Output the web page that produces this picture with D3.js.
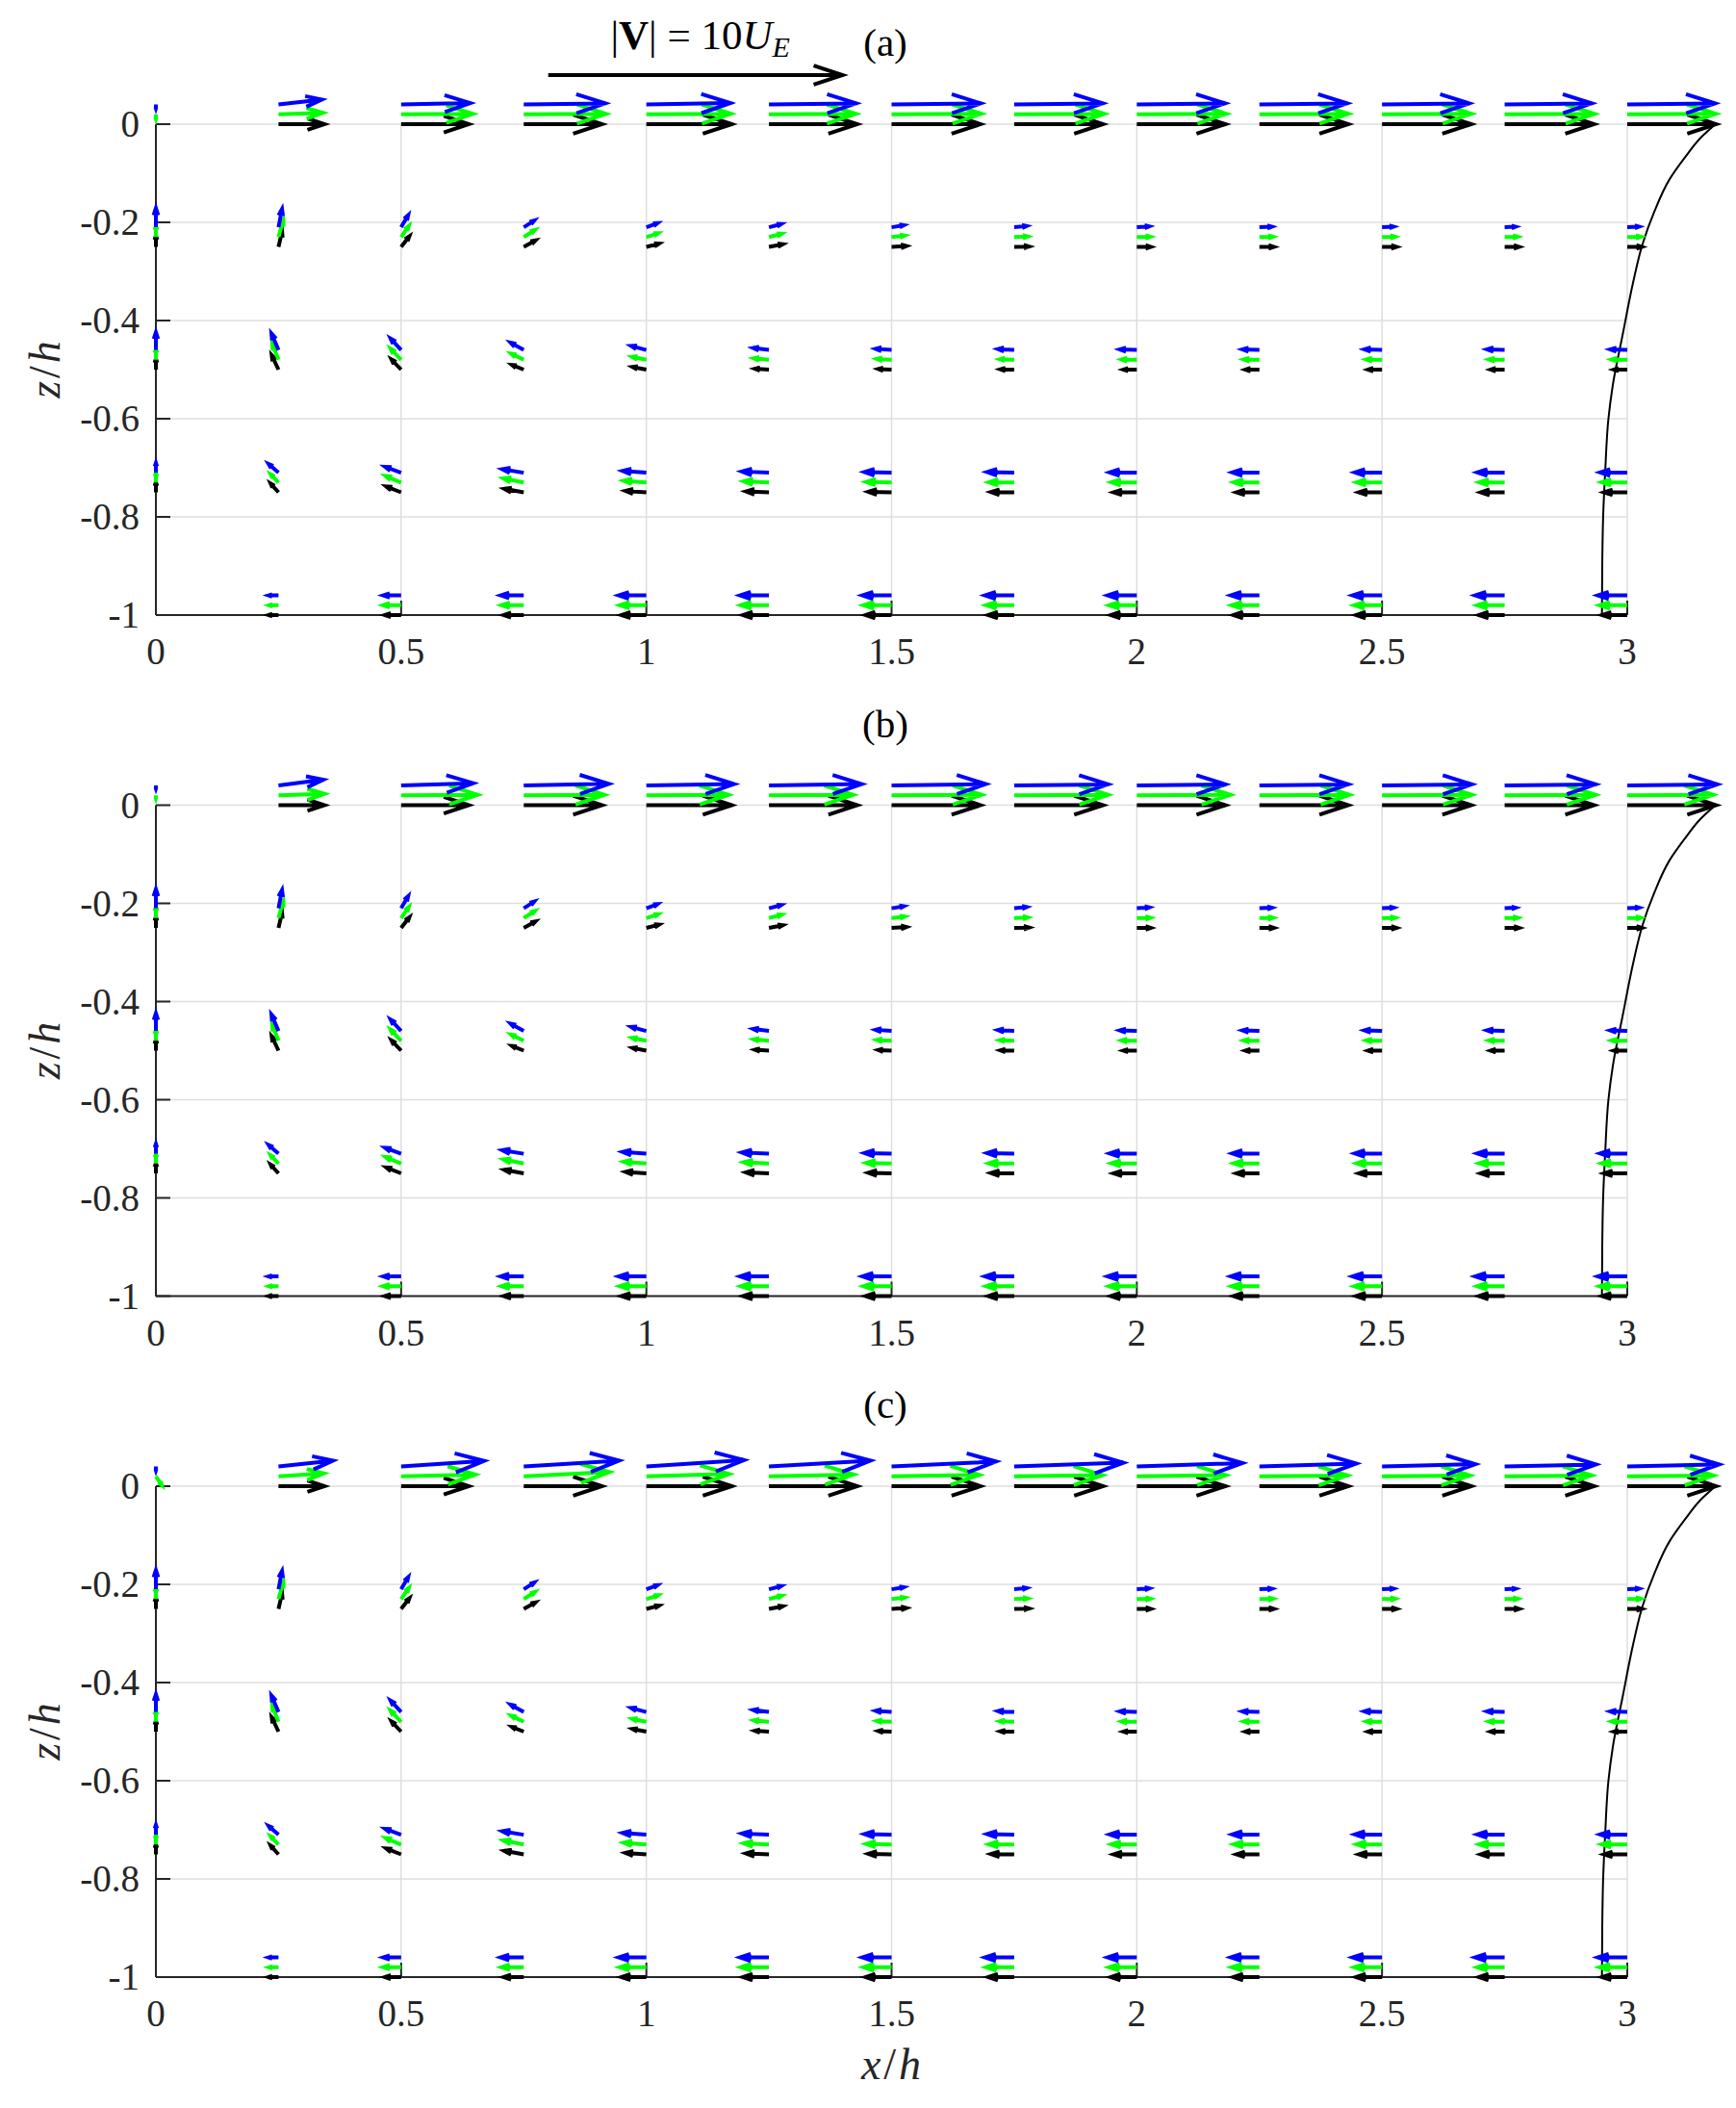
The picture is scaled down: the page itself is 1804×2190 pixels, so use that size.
<!DOCTYPE html>
<html><head><meta charset="utf-8">
<script src="https://cdn.jsdelivr.net/npm/d3@7"></script>
<style>body{margin:0;background:#fff} svg{display:block}</style>
</head><body>
<script>
// ---------- data ----------
const xh = [0,0.25,0.5,0.75,1,1.25,1.5,1.75,2,2.25,2.5,2.75,3];
const rowZ = [0,-0.25,-0.5,-0.75,-1];
const seriesOffset = [0,0.02,0.04];          // black, green, blue (z/h shift)
const seriesColor = ["#000000","#00ff00","#0000ff"];
const panelLabels = ["(a)","(b)","(c)"];
const xTicks = [0,0.5,1,1.5,2,2.5,3];
const xTickLabels = ["0","0.5","1","1.5","2","2.5","3"];
const yTicks = [0,-0.2,-0.4,-0.6,-0.8,-1];
const yTickLabels = ["0","-0.2","-0.4","-0.6","-0.8","-1"];
const velScale = 0.06;   // h per U_E
const refArrowU = 10;    // |V| = 10 U_E
const refArrowX = 0.8, refArrowZ = 0.1;

// surface row (z/h = 0), velocities in U_E
const surfUBlack = [0,1.56,2.30,2.66,2.90,3.00,3.02,3.02,3.01,3.02,3.03,3.04,3.02];
const surfWBlack = [0,0,0,0,0,0,0,0,0,0,0,0,0];
const surfUGreenA = [0,1.51,2.44,2.79,2.87,2.95,3.05,3.06,3.04,3.02,3.04,3.05,3.01];
const surfWGreenA = [-0.15,0.05,0.02,0.02,0.02,0.02,0.02,0.02,0.02,0.02,0.02,0.02,0.02];
const surfUBlueA = [0,1.47,2.35,2.77,2.85,2.96,3.03,3.01,3.00,2.98,2.96,2.96,2.98];
const surfWBlueA = [-0.13,0.17,0.05,0.04,0.05,0.04,0.04,0.04,0.04,0.04,0.04,0.04,0.04];
const surfUGreenB = [0,1.56,2.60,2.74,2.79,2.86,3.06,3.19,3.18,3.06,3.05,3.09,2.92];
const surfWGreenB = [-0.1,0.05,0.02,0.02,0.02,0.02,0.02,0.02,0.02,0.02,0.02,0.02,0.02];
const surfUBlueB = [0,1.52,2.45,2.89,2.99,3.15,3.20,3.19,3.01,3.02,3.05,3.09,3.06];
const surfWBlueB = [-0.1,0.2,0.08,0.06,0.05,0.05,0.05,0.04,0.04,0.04,0.04,0.04,0.04];
const surfUGreenC = [0.2,1.54,2.52,2.91,2.81,2.88,2.98,3.00,3.03,2.99,2.99,2.96,2.93];
const surfWGreenC = [-0.3,0.1,0.06,0.15,0.08,0.06,0.05,0.04,0.04,0.03,0.03,0.03,0.03];
const surfUBlueC = [0,1.85,2.82,3.24,3.32,3.45,3.55,3.71,3.59,3.29,3.17,3.10,3.12];
const surfWBlueC = [-0.13,0.2,0.19,0.2,0.22,0.2,0.17,0.13,0.12,0.1,0.08,0.07,0.07];

// depth rows z/h = -0.25, -0.5, -0.75, -1 (same in all panels)
const depthUBlack = [
  [0,0.12,0.28,0.40,0.43,0.47,0.50,0.51,0.47,0.49,0.49,0.49,0.49],
  [0,-0.23,-0.33,-0.40,-0.47,-0.48,-0.45,-0.47,-0.46,-0.47,-0.47,-0.47,-0.46],
  [0,-0.27,-0.51,-0.66,-0.71,-0.78,-0.79,-0.79,-0.79,-0.78,-0.79,-0.81,-0.79],
  [0,-0.33,-0.55,-0.68,-0.85,-0.88,-0.88,-0.88,-0.88,-0.88,-0.88,-0.87,-0.86]];
const depthWBlack = [
  [0.38,0.52,0.36,0.22,0.11,0.09,0.03,0.01,0,0,0,0,0],
  [0.37,0.49,0.35,0.16,0.09,0.03,0.02,0.01,0,0,0,0,0],
  [0.35,0.30,0.20,0.12,0.05,0.03,0.02,0.01,0,0,0,0,0],
  [0,0,0,0,0,0,0,0,0,0,0,0,0]];
const depthUGreen = [
  [0,0.16,0.26,0.38,0.40,0.43,0.45,0.46,0.46,0.46,0.44,0.44,0.46],
  [0,-0.21,-0.36,-0.43,-0.48,-0.52,-0.50,-0.49,-0.51,-0.53,-0.53,-0.53,-0.53],
  [0,-0.27,-0.53,-0.69,-0.77,-0.86,-0.86,-0.86,-0.86,-0.87,-0.86,-0.86,-0.87],
  [0,-0.32,-0.61,-0.75,-0.90,-0.95,-0.95,-0.95,-0.94,-0.94,-0.94,-0.93,-0.94]];
const depthWGreen = [
  [0.38,0.58,0.38,0.24,0.13,0.11,0.05,0.02,0.01,0.01,0.01,0.01,0.01],
  [0.37,0.54,0.38,0.21,0.10,0.05,0.03,0.02,0.01,0.01,0.01,0.01,0.01],
  [0.33,0.28,0.22,0.14,0.06,0.04,0.02,0.01,0.01,0.01,0.01,0.01,0.01],
  [0,0,0,0,0,0,0,0,0,0,0,0,0]];
const depthUBlue = [
  [0,0.12,0.24,0.36,0.38,0.42,0.42,0.42,0.42,0.42,0.39,0.37,0.40],
  [0,-0.24,-0.36,-0.45,-0.52,-0.54,-0.54,-0.55,-0.58,-0.58,-0.60,-0.60,-0.58],
  [0,-0.34,-0.55,-0.73,-0.81,-0.92,-0.92,-0.92,-0.92,-0.92,-0.92,-0.93,-0.92],
  [0,-0.34,-0.61,-0.78,-0.94,-0.98,-0.99,-0.99,-0.99,-0.97,-1.0,-1.0,-1.0]];
const depthWBlue = [
  [0.65,0.62,0.41,0.23,0.14,0.11,0.07,0.04,0.03,0.02,0.02,0.02,0.02],
  [0.60,0.56,0.39,0.25,0.14,0.07,0.04,0.03,0.02,0.02,0.02,0.02,0.02],
  [0.33,0.30,0.20,0.12,0.06,0.04,0.02,0.02,0.01,0.01,0.01,0.01,0.01],
  [0,0,0,0,0,0,0,0,0,0,0,0,0]];

// velocity profile at x/h = 3 (U_E) vs z/h
const profZ = [0,-0.028,-0.067,-0.113,-0.178,-0.244,-0.322,-0.427,-0.531,-0.6,-0.708,-0.8,-0.9,-1];
const profU = [3.0,2.49,1.97,1.43,0.92,0.52,0.20,-0.15,-0.49,-0.64,-0.75,-0.82,-0.85,-0.86];

// ---------- layout ----------
const W = 1804, H = 2190;
const panelTops = [129, 836.5, 1544];
const panelHeight = 510;
const FONT = "'Liberation Serif','Times New Roman',serif";
const AX = "#262626";

const svg = d3.select("body").append("svg").attr("width", W).attr("height", H)
  .style("background", "#fff");
const x = d3.scaleLinear().domain([0, 3]).range([162, 1691]);

const panels = [
  {uS: [surfUBlack, surfUGreenA, surfUBlueA], wS: [surfWBlack, surfWGreenA, surfWBlueA]},
  {uS: [surfUBlack, surfUGreenB, surfUBlueB], wS: [surfWBlack, surfWGreenB, surfWBlueB]},
  {uS: [surfUBlack, surfUGreenC, surfUBlueC], wS: [surfWBlack, surfWGreenC, surfWBlueC]}
];
const depthU = [depthUBlack, depthUGreen, depthUBlue];
const depthW = [depthWBlack, depthWGreen, depthWBlue];

function arrowPath(X0, Y0, X1, Y1) {
  const dx = X1 - X0, dy = Y1 - Y0, L = Math.hypot(dx, dy);
  if (L < 0.3) return null;
  const ux = dx / L, uy = dy / L, nx = -uy, ny = ux;
  const hl = Math.min(0.37 * L, 30), hw = 0.33 * hl;
  const bx = X1 - hl * ux, by = Y1 - hl * uy;
  return `M${X0},${Y0}L${X1},${Y1}M${bx + hw * nx},${by + hw * ny}L${X1},${Y1}L${bx - hw * nx},${by - hw * ny}`;
}

panels.forEach((p, pi) => {
  const top = panelTops[pi];
  const y = d3.scaleLinear().domain([-1, 0]).range([top + panelHeight, top]);
  const g = svg.append("g");

  // grid
  g.selectAll(".gx").data(xTicks).enter().append("line")
    .attr("x1", d => x(d)).attr("x2", d => x(d)).attr("y1", y(0)).attr("y2", y(-1))
    .attr("stroke", "#dedede").attr("stroke-width", 1.5);
  g.selectAll(".gy").data(yTicks).enter().append("line")
    .attr("y1", d => y(d)).attr("y2", d => y(d)).attr("x1", x(0)).attr("x2", x(3))
    .attr("stroke", "#dedede").attr("stroke-width", 1.5);

  // axes lines
  g.append("line").attr("x1", x(0)).attr("x2", x(0)).attr("y1", y(0)).attr("y2", y(-1))
    .attr("stroke", AX).attr("stroke-width", 2);
  g.append("line").attr("x1", x(0)).attr("x2", x(3)).attr("y1", y(-1)).attr("y2", y(-1))
    .attr("stroke", AX).attr("stroke-width", 2);
  // ticks (inward)
  g.selectAll(".ty").data(yTicks).enter().append("line")
    .attr("x1", x(0)).attr("x2", x(0) + 15).attr("y1", d => y(d)).attr("y2", d => y(d))
    .attr("stroke", AX).attr("stroke-width", 2);
  g.selectAll(".tx").data(xTicks).enter().append("line")
    .attr("x1", d => x(d)).attr("x2", d => x(d)).attr("y1", y(-1)).attr("y2", y(-1) - 15)
    .attr("stroke", AX).attr("stroke-width", 2);
  // tick labels
  g.selectAll(".lx").data(xTicks).enter().append("text")
    .attr("x", d => x(d)).attr("y", y(-1) + 51)
    .attr("text-anchor", "middle").attr("font-family", FONT).attr("font-size", 39).attr("fill", AX)
    .text((d, i) => xTickLabels[i]);
  g.selectAll(".ly").data(yTicks).enter().append("text")
    .attr("x", 145).attr("y", d => y(d) + 13)
    .attr("text-anchor", "end").attr("font-family", FONT).attr("font-size", 39).attr("fill", AX)
    .text((d, i) => yTickLabels[i]);

  // y label
  const yl = g.append("text")
    .attr("transform", `translate(62,${(y(0) + y(-1)) / 2}) rotate(-90)`)
    .attr("text-anchor", "middle").attr("font-family", FONT).attr("font-size", 46).attr("fill", AX);
  yl.append("tspan").attr("font-style", "italic").text("z");
  yl.append("tspan").attr("dx", 3).text("/");
  yl.append("tspan").attr("dx", 3).attr("font-style", "italic").text("h");

  // title
  g.append("text").attr("x", 920).attr("y", top - 71)
    .attr("text-anchor", "middle").attr("font-family", FONT).attr("font-size", 41).attr("fill", "#000")
    .text(panelLabels[pi]);

  // profile curve at x/h = 3
  const line = d3.line()
    .x((d, i) => x(3 + velScale * profU[i]))
    .y((d) => y(d))
    .curve(d3.curveMonotoneY);
  g.append("path").attr("d", line(profZ)).attr("fill", "none")
    .attr("stroke", "#000").attr("stroke-width", 2);

  // arrows
  const ag = g.append("g").attr("fill", "none").attr("stroke-width", 4)
    .attr("stroke-linejoin", "miter").attr("stroke-linecap", "butt");
  for (let s = 0; s < 3; s++) {
    const paths = [];
    rowZ.forEach((z0, r) => {
      const U = r === 0 ? p.uS[s] : depthU[s][r - 1];
      const Wv = r === 0 ? p.wS[s] : depthW[s][r - 1];
      xh.forEach((x0, i) => {
        const zt = z0 + seriesOffset[s];
        const d = arrowPath(x(x0), y(zt), x(x0 + velScale * U[i]), y(zt + velScale * Wv[i]));
        if (d) paths.push(d);
      });
    });
    ag.selectAll(null).data(paths).enter().append("path")
      .attr("d", d => d).attr("stroke", seriesColor[s]);
  }

  if (pi === 0) {
    // reference arrow
    g.append("path")
      .attr("d", arrowPath(x(refArrowX), y(refArrowZ), x(refArrowX + velScale * refArrowU), y(refArrowZ)))
      .attr("fill", "none").attr("stroke", "#000").attr("stroke-width", 4);
    const t = g.append("text").attr("x", x(refArrowX + velScale * refArrowU / 2) + 5).attr("y", 51)
      .attr("text-anchor", "middle").attr("font-family", FONT).attr("font-size", 43).attr("fill", "#000");
    t.append("tspan").text("|");
    t.append("tspan").attr("font-weight", "bold").text("V");
    t.append("tspan").text("| = 10");
    t.append("tspan").attr("font-style", "italic").text("U");
    t.append("tspan").attr("font-style", "italic").attr("font-size", 30).attr("dy", 8).text("E");
  }
});

// x label
const xl = svg.append("text").attr("x", 926).attr("y", 2160)
  .attr("text-anchor", "middle").attr("font-family", FONT).attr("font-size", 46).attr("fill", AX);
xl.append("tspan").attr("font-style", "italic").text("x");
xl.append("tspan").attr("dx", 3).text("/");
xl.append("tspan").attr("dx", 3).attr("font-style", "italic").text("h");
</script>
</body></html>
